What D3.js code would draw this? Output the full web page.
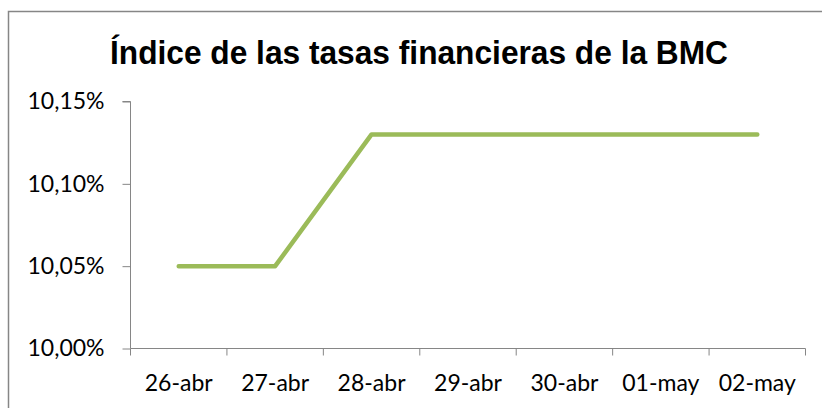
<!DOCTYPE html>
<html>
<head>
<meta charset="utf-8">
<script src="https://cdn.jsdelivr.net/npm/d3@7"></script>
<style>
  body { margin: 0; background: #fff; }
  .axis text { font-family: Lato, "Open Sans", sans-serif; font-size: 23px; fill: #000; }
  .axis path, .axis line { stroke: #868686; }
</style>
</head>
<body>
<div id="chart"></div>
<script>
const width = 822
const height = 408
const margins = { top: 101.5, bottom: 59.5, left: 130.5, right: 16.5 }

const dates = ['26-abr', '27-abr', '28-abr', '29-abr', '30-abr', '01-may', '02-may']
const rates = [10.05, 10.05, 10.13, 10.13, 10.13, 10.13, 10.13]
const yTicks = [10.00, 10.05, 10.10, 10.15]
const title = 'Índice de las tasas financieras de la BMC'

let svg = d3.select('#chart').append('svg').attr('width', width).attr('height', height)

// chart frame
svg.append('rect')
    .attr('x', 8.5).attr('y', 11.5)
    .attr('width', width + 10).attr('height', height + 10)
    .attr('fill', 'none').attr('stroke', '#868686').attr('stroke-width', 1.5)

svg.append('text')
    .attr('x', 110).attr('y', 64)
    .attr('textLength', 618)
    .attr('lengthAdjust', 'spacingAndGlyphs')
    .style('font-family', 'Liberation Sans, Arial, sans-serif')
    .style('font-weight', 'bold')
    .style('font-size', '34px')
    .text(title)

const h = height - margins.top - margins.bottom

let x = d3.scaleBand().domain(dates).range([margins.left, width - margins.right])
let y = d3.scaleLinear().domain([10.00, 10.15]).range([margins.top + h, margins.top])

let yAxis = d3.axisLeft(y).tickValues(yTicks).tickSize(8).tickPadding(18)
    .tickFormat(d => d3.format('.2f')(d).replace('.', ',') + '%')
svg.append('g').attr('class', 'axis')
    .attr('transform', `translate(${margins.left}, 0)`)
    .call(yAxis)
    .call(g => g.select('.domain').attr('d', `M-8,${y(10.15)}H0V${y(10.00)}`))

let xAxis = d3.axisBottom(x).tickSize(0).tickPadding(26)
let xg = svg.append('g').attr('class', 'axis')
    .attr('transform', `translate(0, ${margins.top + h})`)
    .call(xAxis)
xg.select('.domain').attr('d', `M${x.range()[0]},0H${x.range()[1]}`)
xg.selectAll('.boundTick')
    .data(dates.map(d => x(d)).concat([x.range()[1]]))
    .enter().append('line')
    .attr('class', 'boundTick')
    .attr('x1', d => d).attr('x2', d => d)
    .attr('y1', 0).attr('y2', 7)

let line = d3.line()
    .x((d, i) => x(dates[i]) + x.bandwidth() / 2)
    .y(d => y(d))

svg.append('path')
    .datum(rates)
    .attr('d', line)
    .attr('fill', 'none')
    .attr('stroke', '#9BBB59')
    .attr('stroke-width', 4.5)
    .attr('stroke-linecap', 'round')
    .attr('stroke-linejoin', 'round')
</script>
</body>
</html>
